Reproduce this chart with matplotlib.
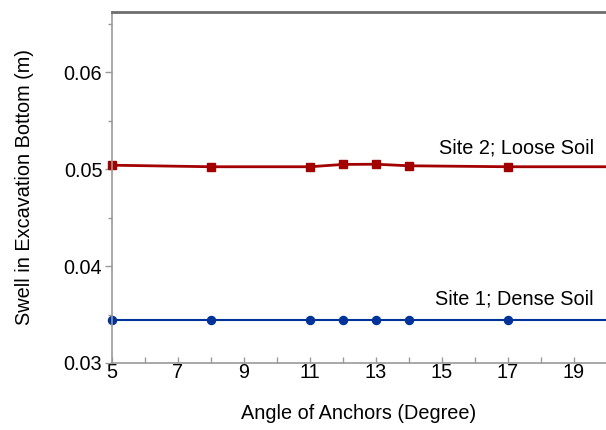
import matplotlib
matplotlib.use("Agg")
import matplotlib.pyplot as plt
from matplotlib.ticker import MultipleLocator, FormatStrFormatter

# Swell at excavation bottom versus anchor angle
angles = [5, 8, 11, 12, 13, 14, 17, 20]
site2_loose = [0.0504, 0.05024, 0.05024, 0.05048, 0.0505, 0.05034, 0.05024, 0.05024]
site1_dense = [0.0344, 0.0344, 0.0344, 0.0344, 0.0344, 0.0344, 0.0344, 0.0344]

plt.rcParams['font.family'] = ['Liberation Sans', 'DejaVu Sans']
fs = 14.3

fig = plt.figure(figsize=(6.06, 4.30), dpi=100)
ax = fig.add_axes([112 / 606, 1 - 363 / 430, 494 / 606, 351 / 430])

red = '#a30000'
blue = '#003399'
shown = list(range(len(angles) - 1))
ax.plot(angles, site2_loose, color=red, lw=2.0, marker='s', ms=5.6,
        markeredgecolor=red, markerfacecolor=red, markevery=shown, clip_on=False)
ax.plot(angles, site1_dense, color=blue, lw=1.5, marker='o', ms=5.8,
        markeredgecolor=blue, markerfacecolor=blue, markevery=shown, clip_on=False)

ax.set_xlim(5, 19.97)
ax.set_ylim(0.03, 0.0662)

ax.xaxis.set_major_locator(MultipleLocator(2, offset=1))
ax.xaxis.set_minor_locator(MultipleLocator(1))
ax.yaxis.set_major_locator(MultipleLocator(0.01))
ax.yaxis.set_minor_locator(MultipleLocator(0.005))
ax.yaxis.set_major_formatter(FormatStrFormatter('%.2f'))

ax.tick_params(axis='x', which='both', direction='in', length=4, width=1,
               color='#999999', labelsize=fs, pad=0)
ax.tick_params(axis='y', which='major', direction='out', length=5, width=1,
               color='#999999', labelsize=fs, pad=2)
ax.tick_params(axis='y', which='minor', direction='out', length=3, width=1,
               color='#999999')

for s in ['left', 'bottom']:
    ax.spines[s].set_color('#999999')
    ax.spines[s].set_linewidth(1.2)
ax.spines['top'].set_color('#6e6e6e')
ax.spines['top'].set_linewidth(2)
ax.spines['right'].set_visible(False)

ax.set_xlabel('Angle of Anchors (Degree)', fontsize=fs, labelpad=16)
ax.set_ylabel('Swell in Excavation Bottom (m)', fontsize=fs, labelpad=21)

ax.text(19.6, 0.0522, 'Site 2; Loose Soil', fontsize=fs, ha='right', va='center')
ax.text(19.6, 0.0366, 'Site 1; Dense Soil', fontsize=fs, ha='right', va='center')

fig.savefig('out.png', dpi=100)
